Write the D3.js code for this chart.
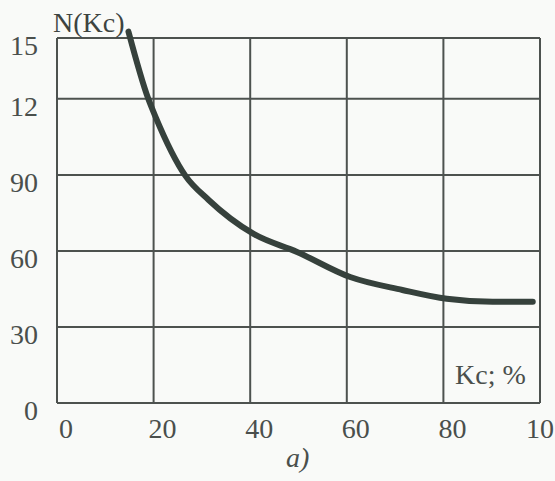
<!DOCTYPE html>
<html><head><meta charset="utf-8">
<script src="https://cdn.jsdelivr.net/npm/d3@7"></script>
<style>html,body{margin:0;padding:0;background:#f9faf8;}svg{display:block;}</style>
</head><body>
<script>
// Data
const kc = [14.8, 18.9, 20.4, 26.6, 31.4, 40.7, 49.7, 60.7, 71.5, 80.7, 90.2, 98.5];
const nVals = [146.5, 120, 112.9, 89.6, 80.1, 66.7, 59.6, 49.7, 44.6, 41.1, 39.9, 39.9];
const xTickValues = [0, 20, 40, 60, 80, 100];
const xTickLabels = ["0", "20", "40", "60", "80", "10"];
const yTickValues = [0, 30, 60, 90, 120, 144];
const yTickLabels = ["0", "30", "60", "90", "12", "15"];
const yAxisTitle = "N(Kc)";
const xAxisTitle = "Kc; %";
const caption = "a)";

const W = 555, H = 481;
const svg = d3.select("body").append("svg").attr("width", W).attr("height", H);
svg.append("rect").attr("width", W).attr("height", H).attr("fill", "#f9faf8");

const x = d3.scaleLinear().domain([0, 100]).range([57, 540]);
const y = d3.scaleLinear().domain([0, 144]).range([403, 38]);

const gridColor = "#4d524f";
const font = "'Liberation Serif', 'DejaVu Serif', serif";
const textColor = "#4a4f4c";
const fs = 28;

// Grid
svg.append("g").selectAll("line").data(xTickValues).join("line")
  .attr("x1", d => x(d)).attr("x2", d => x(d))
  .attr("y1", y(144)).attr("y2", y(0))
  .attr("stroke", gridColor).attr("stroke-width", 2);
svg.append("g").selectAll("line").data(yTickValues).join("line")
  .attr("x1", x(0)).attr("x2", x(100))
  .attr("y1", d => y(d)).attr("y2", d => y(d))
  .attr("stroke", gridColor).attr("stroke-width", 2);

// Tick labels
svg.append("g").selectAll("text").data(xTickValues).join("text")
  .attr("x", d => x(d) + 9).attr("y", 438)
  .attr("text-anchor", "middle")
  .attr("font-family", font).attr("font-size", fs).attr("fill", textColor)
  .text((d, i) => xTickLabels[i])
  .each(function() {
    const w = this.getComputedTextLength();
    const cx = +this.getAttribute("x");
    if (cx + w / 2 > W - 1) this.setAttribute("x", W - 1 - w / 2);
  });
svg.append("g").selectAll("text").data(yTickValues).join("text")
  .attr("x", 38).attr("y", d => y(d) + 7)
  .attr("dy", "0.35em")
  .attr("text-anchor", "end")
  .attr("font-family", font).attr("font-size", fs).attr("fill", textColor)
  .text((d, i) => yTickLabels[i]);

// Curve
const pts = kc.map((v, i) => [v, nVals[i]]);
svg.append("path").datum(pts)
  .attr("d", d3.line().x(d => x(d[0])).y(d => y(d[1])).curve(d3.curveMonotoneX))
  .attr("fill", "none").attr("stroke", "#36413c").attr("stroke-width", 6)
  .attr("stroke-linecap", "round");

// Titles
svg.append("text").attr("x", 53).attr("y", 32)
  .attr("font-family", font).attr("font-size", fs).attr("fill", "#3d4340")
  .text(yAxisTitle);
svg.append("text").attr("x", 455).attr("y", 384)
  .attr("font-family", font).attr("font-size", fs).attr("fill", textColor)
  .text(xAxisTitle);
svg.append("text").attr("x", 286).attr("y", 467)
  .attr("font-family", font).attr("font-size", fs).attr("font-style", "italic").attr("fill", textColor)
  .text(caption);
</script>
</body></html>
